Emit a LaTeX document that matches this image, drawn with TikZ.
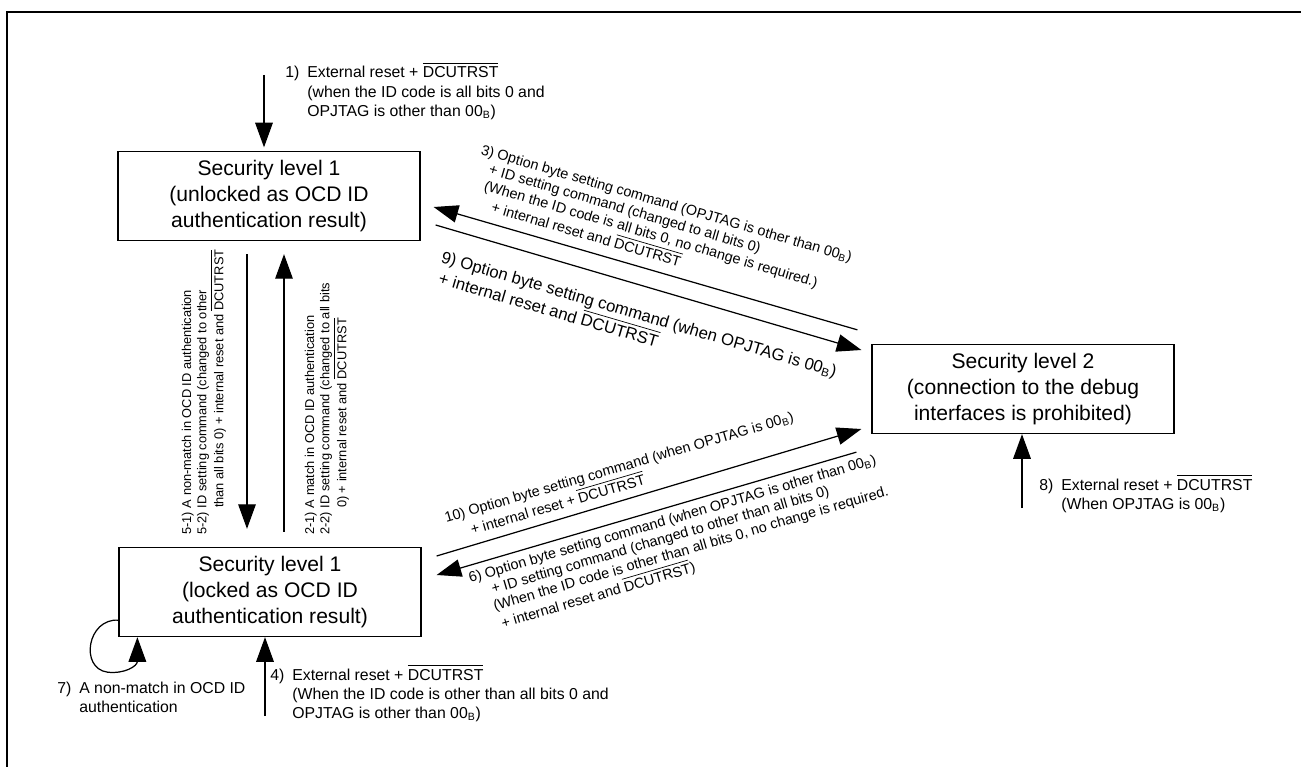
\documentclass[tikz,border=0pt]{standalone}
\usepackage{fontspec}
\setmainfont{Liberation Sans}
\usetikzlibrary{arrows.meta,calc}

% overlined signal name
\newsavebox\ovlbox
\newcommand{\ovl}[1]{\sbox\ovlbox{#1}\rlap{\rule[0.9em]{\wd\ovlbox}{0.4pt}}\usebox\ovlbox}
\newcommand{\zzB}{00\textsubscript{B}}

\begin{document}
\begin{tikzpicture}[x=0.02cm, y=-0.02cm,
  state/.style={draw, line width=0.75pt, align=center, inner sep=0pt,
                minimum width=6.04cm, minimum height=1.78cm,
                font=\fontsize{12}{14.6}\selectfont},
  arr/.style={-{Triangle[length=14pt,width=10pt]}, line width=0.7pt},
  lbl/.style={inner sep=0pt, anchor=base west, font=\fontsize{9}{11}\selectfont},
  slbl/.style={lbl, font=\fontsize{8.2}{9.6}\selectfont},
  vlbl/.style={lbl, rotate=90, font=\fontsize{7.3}{8.8}\selectfont}
]
\useasboundingbox (0,0) rectangle (1301,767);
\draw[line width=1.2pt] (7,767) -- (7,12) -- (1301,12);

% the three states
\node[state] (unlk) at (269,196)
  {Security level 1\\(unlocked as OCD ID\\authentication result)};
\node[state] (lock) at (270,592)
  {Security level 1\\(locked as OCD ID\\authentication result)};
\node[state] (lvtwo) at (1023,389)
  {Security level 2\\(connection to the debug\\interfaces is prohibited)};

% resets from outside
\coordinate (in1) at (264,75);
\coordinate (in4) at (265,716);
\coordinate (in8) at (1022,508);
\draw[arr, shorten >=2pt] (in1) -- (in1 |- unlk.north);
\draw[arr] (in4) -- (in4 |- lock.south);
\draw[arr] (in8) -- (in8 |- lvtwo.south);

% level 1 unlocked <-> locked
\draw[arr] ($(unlk.south)+(-22,13)$) -- ($(lock.north)+(-23,-18)$);
\draw[arr] ($(lock.north)+(14,-15)$) -- ($(unlk.south)+(15,13)$);

% level 1 <-> level 2
\draw[arr] ($(lvtwo.north west)+(-14,-14)$) -- ($(unlk.east)+(13,11)$);
\draw[arr] ($(unlk.east)+(15,29)$) -- ($(lvtwo.west)+(-10,-39)$);
\draw[arr] ($(lock.east)+(15,-36)$) -- ($(lvtwo.west)+(-10,40)$);
\draw[arr] ($(lvtwo.south west)+(-15,18)$) -- ($(lock.east)+(15,-17)$);

% self loop on locked state
\draw[arr] ($(lock.south west)+(0,-17)$) .. controls +(-31,-2) and +(-28,-4) ..
  ($(lock.south west)+(-11,35)$) .. controls +(17,2) and +(0,29) ..
  ($(lock.south west)+(19,0)$);

% labels
\node[lbl] (t1) at (285,78) {\begin{tabular}[t]{@{}l@{\hspace{0.5em}}l@{}}
  1) & External reset + \ovl{DCUTRST}\\
     & (when the ID code is all bits 0 and\\
     & OPJTAG is other than \zzB)\end{tabular}};
\node[lbl] (t8) at (1039,490) {\begin{tabular}[t]{@{}l@{\hspace{0.5em}}l@{}}
  8) & External reset + \ovl{DCUTRST}\\
     & (When OPJTAG is \zzB)\end{tabular}};
\node[lbl] (t4) at (270,680) {\begin{tabular}[t]{@{}l@{\hspace{0.5em}}l@{}}
  4) & External reset + \ovl{DCUTRST}\\
     & (When the ID code is other than all bits 0 and\\
     & OPJTAG is other than \zzB)\end{tabular}};
\node[lbl] (t7) at (57,693) {\begin{tabular}[t]{@{}l@{\hspace{0.5em}}l@{}}
  7) & A non-match in OCD ID\\
     & authentication\end{tabular}};

\node[vlbl] (t5) at (191,535) {\begin{tabular}[t]{@{}l@{\hspace{0.3em}}l@{}}
  5-1) & A non-match in OCD ID authentication\\
  5-2) & ID setting command (changed to other\\
       & than all bits 0) + internal reset and \ovl{DCUTRST}\end{tabular}};
\node[vlbl] (t2) at (314,535) {\begin{tabular}[t]{@{}l@{\hspace{0.3em}}l@{}}
  2-1) & A match in OCD ID authentication\\
  2-2) & ID setting command (changed to all bits\\
       & 0) + internal reset and \ovl{DCUTRST}\end{tabular}};

\node[slbl, rotate=-16.3] (t3) at (480,154) {\begin{tabular}[t]{@{}l@{}}
  3) Option byte setting command (OPJTAG is other than \zzB)\\
  \hspace*{0.9em}+ ID setting command (changed to all bits 0)\\
  \hspace*{0.9em}(When the ID code is all bits 0, no change is required.)\\
  \hspace*{1.8em}+ internal reset and \ovl{DCUTRST}\end{tabular}};
\node[lbl, rotate=-16.3, font=\fontsize{9.5}{10.5}\selectfont] (t9) at (440,262)
  {\begin{tabular}[t]{@{}l@{}}
  9) Option byte setting command (when OPJTAG is \zzB)\\
  \hspace*{0.2em}+ internal reset and \ovl{DCUTRST}\end{tabular}};
\node[slbl, rotate=16.3] (t10) at (446,523) {\begin{tabular}[t]{@{}l@{}}
  10) Option byte setting command (when OPJTAG is \zzB)\\
  \hspace*{1.5em}+ internal reset + \ovl{DCUTRST}\end{tabular}};
\node[slbl, rotate=16.3] (t6) at (470,583) {\begin{tabular}[t]{@{}l@{}}
  6) Option byte setting command (when OPJTAG is other than \zzB)\\
  \hspace*{1.3em}+ ID setting command (changed to other than all bits 0)\\
  \hspace*{1.1em}(When the ID code is other than all bits 0, no change is required.\\
  \hspace*{1.3em}+ internal reset and \ovl{DCUTRST})\end{tabular}};
\end{tikzpicture}
\end{document}
